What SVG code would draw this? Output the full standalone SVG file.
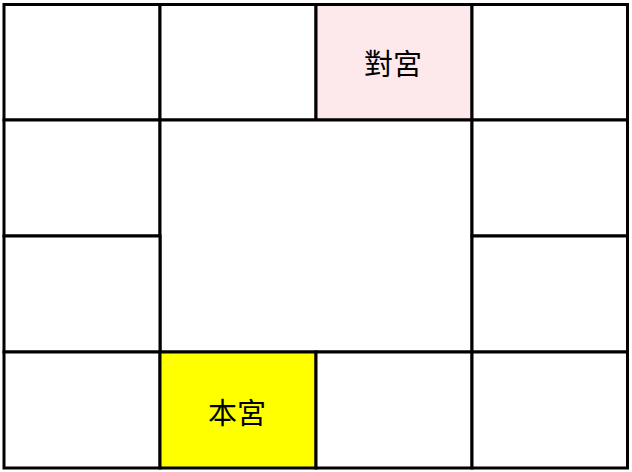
<svg xmlns="http://www.w3.org/2000/svg" width="632" height="472" viewBox="0 0 632 472">
<style>
.c{stroke:#000;stroke-width:3;fill:#fff}
.t{font-family:"Noto Sans CJK TC","Noto Sans CJK SC",sans-serif;font-size:29px;fill:#000;text-anchor:middle;dominant-baseline:central}
</style>
<rect x="0" y="0" width="632" height="472" fill="#fff"/>
<g id="cell-r1c1"><rect class="c" x="4" y="4.5" width="156" height="115.5"/></g>
<g id="cell-r1c2"><rect class="c" x="160" y="4.5" width="156" height="115.5"/></g>
<g id="cell-r1c3"><rect class="c" x="316" y="4.5" width="156" height="115.5" style="fill:#fde9ec"/><text class="t" x="393" y="62">對宮</text></g>
<g id="cell-r1c4"><rect class="c" x="472" y="4.5" width="155.5" height="115.5"/></g>
<g id="cell-r2c1"><rect class="c" x="4" y="120" width="156" height="116"/></g>
<g id="cell-center"><rect class="c" x="160" y="120" width="312" height="232"/></g>
<g id="cell-r2c4"><rect class="c" x="472" y="120" width="155.5" height="116"/></g>
<g id="cell-r3c1"><rect class="c" x="4" y="236" width="156" height="116"/></g>
<g id="cell-r3c4"><rect class="c" x="472" y="236" width="155.5" height="116"/></g>
<g id="cell-r4c1"><rect class="c" x="4" y="352" width="156" height="116"/></g>
<g id="cell-r4c2"><rect class="c" x="160" y="352" width="156" height="116" style="fill:#ffff00"/><text class="t" x="237" y="411">本宮</text></g>
<g id="cell-r4c3"><rect class="c" x="316" y="352" width="156" height="116"/></g>
<g id="cell-r4c4"><rect class="c" x="472" y="352" width="155.5" height="116"/></g>
<g id="connectors"></g>
</svg>
